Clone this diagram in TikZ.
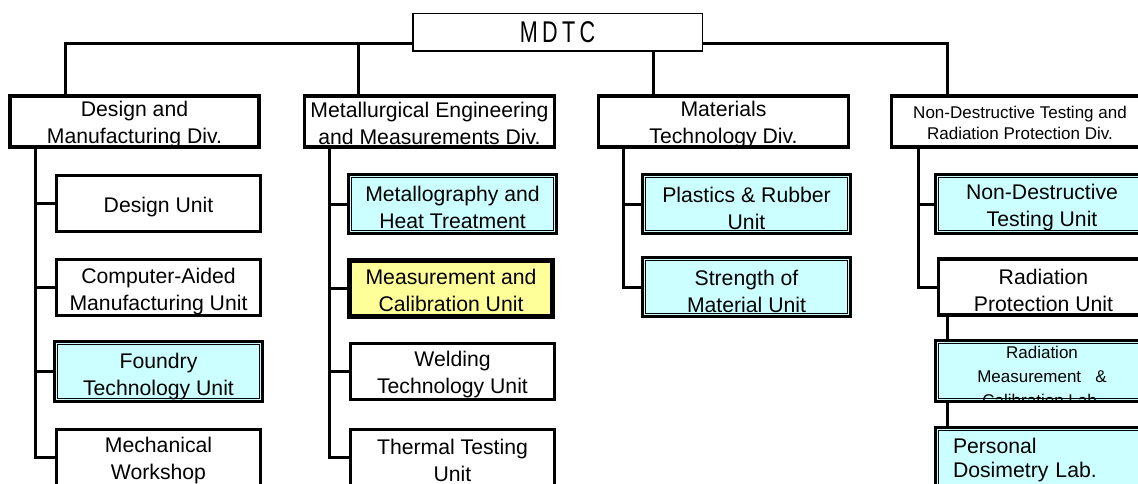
\documentclass[tikz,border=0pt]{standalone}
\usepackage{graphicx}
\usepackage{fontspec}
\setmainfont{Liberation Sans}
\definecolor{cyanfill}{HTML}{CCFFFF}
\definecolor{yelfill}{HTML}{FFFF99}
\newcommand\ufnt{\fontsize{21.2}{27}\selectfont}
\newcommand\pfnt{\fontsize{21.2}{24.5}\selectfont}
\newcommand\sfnt{\fontsize{17}{20.5}\selectfont}
\newcommand\rfnt{\fontsize{17}{24}\selectfont}
\newcommand\mfnt{\fontsize{30}{30}\selectfont}
\tikzset{
  conn/.style={line width=3pt},
  box/.style={rectangle, inner sep=0pt, outer sep=0pt, draw=black, fill=white, line width=3.3pt},
  plainbox/.style={box, minimum width=204pt, minimum height=56pt},
  dblbox/.style={box, fill=cyanfill, minimum width=208pt, minimum height=60pt},
  yelbox/.style={box, fill=yelfill, line width=5pt, minimum width=203pt, minimum height=56pt},
  txtnode/.style={draw=none, fill=none, inner sep=0pt, outer sep=0pt, text=black},
  innerline/.style={draw=black, fill=none, line width=1.3pt},
  lbl/.style n args={3}{path picture={
      \node[txtnode, align=center, font=#1] at ([yshift=#2]path picture bounding box.center) {#3};}},
  dlbl/.style n args={3}{path picture={
      \node[txtnode, align=center, font=#1] at ([yshift=#2]path picture bounding box.center) {#3};
      \draw[innerline]
        ([shift={(3.3pt,3.3pt)}]path picture bounding box.south west) rectangle
        ([shift={(-3.3pt,-3.3pt)}]path picture bounding box.north east);}},
  dlbll/.style n args={3}{path picture={
      \node[txtnode, align=left, text width=178pt, font=#1] at ([yshift=#2]path picture bounding box.center) {#3};
      \draw[innerline]
        ([shift={(3.3pt,3.3pt)}]path picture bounding box.south west) rectangle
        ([shift={(-3.3pt,-3.3pt)}]path picture bounding box.north east);}},
}
\begin{document}
\begin{tikzpicture}[x=1pt,y=-1pt]
\useasboundingbox (0,0) rectangle (1138,484);
\clip (0,0) rectangle (1138,484);
\fill[white] (0,0) rectangle (1138,484);

% top
\node[box, line width=1.5pt, minimum width=289.5pt, minimum height=37.5pt,
  lbl={\mfnt}{0pt}{\scalebox{0.72}[1]{M\kern6pt D\kern6pt T\kern6pt C}}] (mdtc) at (557.5,32.5) {};

% divisions
\node[box, minimum width=249pt, minimum height=51pt,
  lbl={\ufnt}{-3pt}{Design and\\Manufacturing Div.}] (d1) at (134.5,121.5) {};
\node[box, minimum width=250pt, minimum height=51pt,
  lbl={\ufnt}{-1.5pt}{Metallurgical Engineering\\and Measurements Div.}] (d2) at (429.5,121.5) {};
\node[box, minimum width=250pt, minimum height=51pt,
  lbl={\ufnt}{-3pt}{Materials\\Technology Div.}] (d3) at (723.5,121.5) {};
\node[box, minimum width=257pt, minimum height=51pt,
  lbl={\sfnt}{-1.5pt}{Non-Destructive Testing and\\Radiation Protection Div.}] (d4) at (1020,121.5) {};

% column 1
\node[plainbox, lbl={\ufnt}{-3.5pt}{Design Unit}] (du) at (158.5,203.5) {};
\node[plainbox, lbl={\ufnt}{-4pt}{Computer-Aided\\Manufacturing Unit}] (cam) at (158.5,287.5) {};
\node[dblbox, dlbl={\ufnt}{-5pt}{Foundry\\Technology Unit}] (fdy) at (158.5,371.5) {};
\node[plainbox, lbl={\ufnt}{-3pt}{Mechanical\\Workshop}] (mw) at (158.5,457.5) {};

% column 2
\node[dblbox, minimum height=59pt, dlbl={\ufnt}{-3pt}{Metallography and\\Heat Treatment}] (met) at (452.5,204) {};
\node[yelbox, lbl={\ufnt}{-2pt}{Measurement and\\Calibration Unit}] (mcu) at (451,288.5) {};
\node[plainbox, lbl={\ufnt}{-3pt}{Welding\\Technology Unit}] (wel) at (452.5,371.5) {};
\node[plainbox, lbl={\ufnt}{-3pt}{Thermal Testing\\Unit}] (thr) at (452.5,457.5) {};

% column 3
\node[dblbox, minimum height=59pt, dlbl={\ufnt}{-4pt}{Plastics \& Rubber\\Unit}] (pla) at (746.5,204) {};
\node[dblbox, minimum height=59pt, dlbl={\ufnt}{-4pt}{Strength of\\Material Unit}] (str) at (746.5,287) {};

% column 4
\node[dblbox, minimum width=213pt, minimum height=59pt, dlbl={\ufnt}{-4pt}{Non-Destructive\\Testing Unit}] (ndt) at (1042,204) {};
\node[plainbox, minimum width=210pt, lbl={\ufnt}{-3pt}{Radiation\\Protection Unit}] (rpu) at (1043.5,287) {};
\node[dblbox, minimum width=213pt, minimum height=61pt, dlbl={\rfnt}{-5pt}{Radiation\\Measurement\ \ \ \&\\Calibration Lab.}] (rmc) at (1042,371) {};
\node[dblbox, minimum width=213pt, minimum height=60pt, dlbll={\pfnt}{-2.5pt}{Personal\\Dosimetry Lab.}] (pdl) at (1042,457.5) {};

% connector anchors
\coordinate (x1) at (65,44);
\coordinate (x2) at (358,44);
\coordinate (x3) at (653,44);
\coordinate (x4) at (947,44);
\coordinate (t1) at (35,0);
\coordinate (t2) at (329,0);
\coordinate (t3) at (623,0);
\coordinate (t4) at (918,0);

% top bus
\draw[conn] (x1 |- d1.north) -- (x1) -- (mdtc.west |- x1);
\draw[conn] (mdtc.east |- x4) -- (x4) -- (x4 |- d4.north);
\draw[conn] (x2) -- (x2 |- d2.north);
\draw[conn] (x3 |- mdtc.south) -- (x3 |- d3.north);

% column trunks
\draw[conn] (t1 |- d1.south) |- (du.west);
\draw[conn] (t1 |- d1.south) |- (cam.west);
\draw[conn] (t1 |- d1.south) |- (fdy.west);
\draw[conn] (t1 |- d1.south) |- (mw.west);
\draw[conn] (t2 |- d2.south) |- (met.west);
\draw[conn] (t2 |- d2.south) |- (mcu.west);
\draw[conn] (t2 |- d2.south) |- (wel.west);
\draw[conn] (t2 |- d2.south) |- (thr.west);
\draw[conn] (t3 |- d3.south) |- (pla.west);
\draw[conn] (t3 |- d3.south) |- (str.west);
\draw[conn] (t4 |- d4.south) |- (ndt.west);
\draw[conn] (t4 |- d4.south) |- (rpu.west);
\draw[conn] (x4 |- rpu.south) -- (x4 |- rmc.north);
\draw[conn] (x4 |- rmc.south) -- (x4 |- pdl.north);
\end{tikzpicture}
\end{document}
